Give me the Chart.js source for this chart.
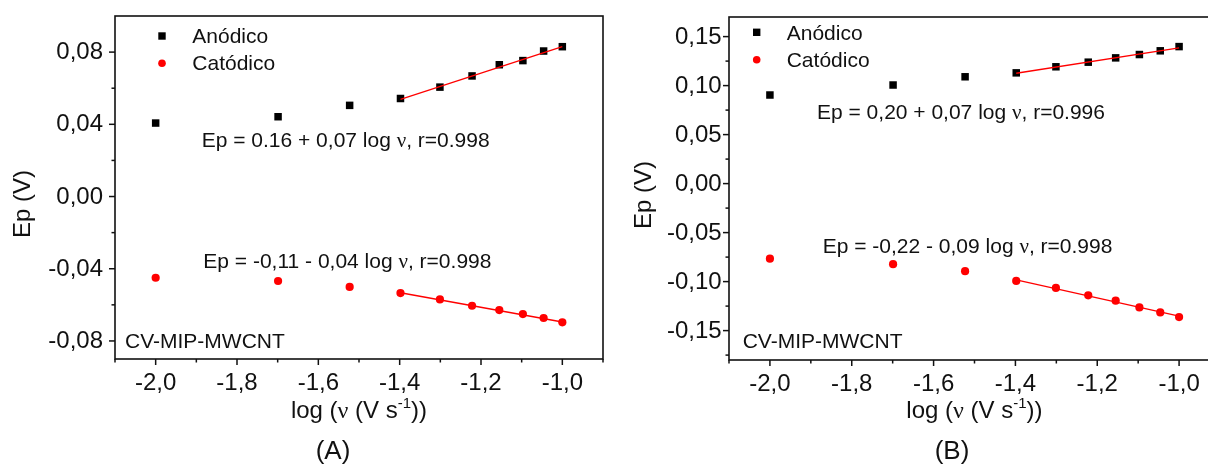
<!DOCTYPE html>
<html>
<head>
<meta charset="utf-8">
<script src="https://cdn.jsdelivr.net/npm/chart.js@4.4.1/dist/chart.umd.min.js"></script>
<style>
html, body { margin: 0; padding: 0; background: #fff; overflow: hidden; width: 1208px; height: 466px; }
#wrapA { position: absolute; left: 0; top: 0; width: 610px; height: 466px; }
#wrapB { position: absolute; left: 610px; top: 0; width: 620px; height: 466px; }
</style>
</head>
<body>
<div id="wrapA"><canvas id="chartA" width="610" height="466"></canvas></div>
<div id="wrapB"><canvas id="chartB" width="620" height="466"></canvas></div>
<script>
// log of scan rate (10 ... 100 mV/s)
const logScanRate = [-2.0, -1.699, -1.523, -1.398, -1.301, -1.222, -1.155, -1.097, -1.046, -1.0];

// panel A peak potentials (V)
const anodicA   = [0.0407, 0.0442, 0.0505, 0.0543, 0.0606, 0.0668, 0.0730, 0.0753, 0.0806, 0.0830];
const cathodicA = [-0.0450, -0.0468, -0.0501, -0.0535, -0.0570, -0.0605, -0.0629, -0.0651, -0.0673, -0.0697];

// panel B peak potentials (V)
const anodicB   = [0.0904, 0.1006, 0.1090, 0.1130, 0.1192, 0.1239, 0.1283, 0.1317, 0.1355, 0.1398];
const cathodicB = [-0.0766, -0.0822, -0.0894, -0.0993, -0.1065, -0.1140, -0.1195, -0.1264, -0.1315, -0.1362];

// linear fits over the last 7 points
const fitX = [-1.398, -1.0];
const fitAnodicA   = [0.0538, 0.0830];
const fitCathodicA = [-0.0533, -0.0695];
const fitAnodicB   = [0.1126, 0.1385];
const fitCathodicB = [-0.0983, -0.1352];

// ticks
const xMajor = [-2.0, -1.8, -1.6, -1.4, -1.2, -1.0];
const xLabels = ['-2,0', '-1,8', '-1,6', '-1,4', '-1,2', '-1,0'];
const xMinor = [-2.1, -1.9, -1.7, -1.5, -1.3, -1.1, -0.9];
const yMajorA = [-0.08, -0.04, 0, 0.04, 0.08];
const yLabelsA = ['-0,08', '-0,04', '0,00', '0,04', '0,08'];
const yMinorA = [-0.06, -0.02, 0.02, 0.06];
const yMajorB = [-0.15, -0.10, -0.05, 0, 0.05, 0.10, 0.15];
const yLabelsB = ['-0,15', '-0,10', '-0,05', '0,00', '0,05', '0,10', '0,15'];
const yMinorB = [-0.175, -0.125, -0.075, -0.025, 0.025, 0.075, 0.125];

const SANS = '"Liberation Sans", Arial, Helvetica, sans-serif';
const SERIF = '"Liberation Serif", "Times New Roman", serif';
const INK = '#111';
const RED = '#ff0000';

function pts(xs, ys) {
    return xs.map((x, i) => ({ x: x, y: ys[i] }));
}

// draw text made of runs [text, font, dy]
function drawRuns(ctx, runs, x, y, align) {
    let total = 0;
    runs.forEach(r => { ctx.font = r[1]; total += ctx.measureText(r[0]).width; });
    let cx = align === 'center' ? x - total / 2 : x;
    ctx.textAlign = 'left';
    runs.forEach(r => {
        ctx.font = r[1];
        ctx.fillText(r[0], cx, y + (r[2] || 0));
        cx += ctx.measureText(r[0]).width;
    });
}

function eqRuns(before, after) {
    return [[before, '21px ' + SANS], ['\u03bd', '21px ' + SERIF], [after, '21px ' + SANS]];
}

function makeOverlay(cfg) {
    return {
        id: 'overlay',
        afterDraw(chart) {
            const ctx = chart.ctx;
            const a = chart.chartArea;
            const xs = chart.scales.x, ys = chart.scales.y;
            ctx.save();
            ctx.strokeStyle = INK;
            ctx.fillStyle = INK;

            // frame
            ctx.lineWidth = 1.6;
            ctx.strokeRect(a.left, a.top, a.right - a.left, a.bottom - a.top);

            // tick marks (outward)
            ctx.lineWidth = 1.5;
            const tick = (scale, vals, len, isX) => vals.forEach(v => {
                const p = scale.getPixelForValue(v);
                ctx.beginPath();
                if (isX) { ctx.moveTo(p, a.bottom); ctx.lineTo(p, a.bottom + len); }
                else { ctx.moveTo(a.left, p); ctx.lineTo(a.left - len, p); }
                ctx.stroke();
            });
            tick(xs, xMajor, 6, true);
            tick(xs, xMinor, 3.5, true);
            tick(ys, cfg.yMajor, 6, false);
            tick(ys, cfg.yMinor, 3.5, false);

            // tick labels
            ctx.font = '24px ' + SANS;
            ctx.textBaseline = 'middle';
            ctx.textAlign = 'center';
            xMajor.forEach((v, i) => ctx.fillText(xLabels[i], xs.getPixelForValue(v), cfg.xLabelY));
            ctx.textAlign = 'right';
            cfg.yMajor.forEach((v, i) => ctx.fillText(cfg.yLabels[i], cfg.yLabelRight, ys.getPixelForValue(v) + 0.5));

            ctx.textBaseline = 'alphabetic';

            // axis titles
            drawRuns(ctx, [
                ['log (', '24px ' + SANS],
                ['\u03bd', '24px ' + SERIF],
                [' (V s', '24px ' + SANS],
                ['-1', '15px ' + SANS, -10],
                ['))', '24px ' + SANS]
            ], cfg.xTitle[0], cfg.xTitle[1], 'center');

            ctx.save();
            ctx.translate(cfg.yTitle[0], cfg.yTitle[1]);
            ctx.rotate(-Math.PI / 2);
            ctx.font = '24px ' + SANS;
            ctx.textAlign = 'center';
            ctx.fillText('Ep (V)', 0, 0);
            ctx.restore();

            // panel letter
            ctx.font = '26px ' + SANS;
            ctx.textAlign = 'center';
            ctx.fillText(cfg.letter, cfg.letterPos[0], cfg.letterPos[1]);

            // legend
            const lg = cfg.legend;
            ctx.fillStyle = '#000';
            ctx.fillRect(lg.x - 3.7, lg.y1 - 3.7, 7.4, 7.4);
            ctx.fillStyle = RED;
            ctx.beginPath();
            ctx.arc(lg.x, lg.y2, 3.8, 0, Math.PI * 2);
            ctx.fill();
            ctx.fillStyle = INK;
            ctx.font = '21px ' + SANS;
            ctx.textAlign = 'left';
            ctx.fillText('Anódico', lg.tx, lg.y1 + 7.3);
            ctx.fillText('Catódico', lg.tx, lg.y2 + 6.8);

            // equations and sample name
            cfg.equations.forEach(e => drawRuns(ctx, e.runs, e.x, e.y, 'left'));
            ctx.font = '21px ' + SANS;
            ctx.textAlign = 'left';
            ctx.fillText('CV-MIP-MWCNT', cfg.name[0], cfg.name[1]);

            ctx.restore();
        }
    };
}

function makePanel(canvasId, anodic, cathodic, fitAn, fitCat, yMin, yMax, layout, cfg) {
    const ctx = document.getElementById(canvasId).getContext('2d');
    return new Chart(ctx, {
        type: 'scatter',
        data: {
            datasets: [
                {
                    label: 'Anódico',
                    data: pts(logScanRate, anodic),
                    pointStyle: 'rect',
                    pointRadius: 5.3,
                    backgroundColor: '#000',
                    borderWidth: 0,
                    order: 2
                },
                {
                    label: 'Catódico',
                    data: pts(logScanRate, cathodic),
                    pointStyle: 'circle',
                    pointRadius: 4.1,
                    backgroundColor: RED,
                    borderWidth: 0,
                    order: 2
                },
                {
                    type: 'line',
                    label: 'fit anódico',
                    data: pts(fitX, fitAn),
                    borderColor: RED,
                    borderWidth: 1.3,
                    pointRadius: 0,
                    fill: false,
                    order: 1
                },
                {
                    type: 'line',
                    label: 'fit catódico',
                    data: pts(fitX, fitCat),
                    borderColor: RED,
                    borderWidth: 1.3,
                    pointRadius: 0,
                    fill: false,
                    order: 1
                }
            ]
        },
        options: {
            responsive: false,
            animation: false,
            devicePixelRatio: 1,
            events: [],
            layout: { padding: { left: 0, top: layout.top, right: layout.right, bottom: 0 } },
            plugins: { legend: { display: false }, tooltip: { enabled: false } },
            scales: {
                x: {
                    type: 'linear', min: -2.1, max: -0.9,
                    grid: { display: false }, border: { display: false },
                    ticks: { display: false },
                    afterFit: s => { s.height = layout.xHeight; }
                },
                y: {
                    type: 'linear', min: yMin, max: yMax,
                    grid: { display: false }, border: { display: false },
                    ticks: { display: false },
                    afterFit: s => { s.width = layout.yWidth; }
                }
            }
        },
        plugins: [makeOverlay(cfg)]
    });
}

makePanel('chartA', anodicA, cathodicA, fitAnodicA, fitCathodicA, -0.09, 0.10,
    { top: 16, right: 7, xHeight: 107, yWidth: 115 },
    {
        yMajor: yMajorA, yLabels: yLabelsA, yMinor: yMinorA,
        yLabelRight: 103, xLabelY: 383,
        xTitle: [359, 418], yTitle: [30, 204],
        letter: '(A)', letterPos: [333, 458.5],
        legend: { x: 162, y1: 36, y2: 63.3, tx: 192.3 },
        equations: [
            { runs: eqRuns('Ep = 0.16 + 0,07 log ', ', r=0.998'), x: 201.7, y: 146.7 },
            { runs: eqRuns('Ep = -0,11 - 0,04 log ', ', r=0.998'), x: 203.3, y: 268.3 }
        ],
        name: [125, 348.3]
    });

makePanel('chartB', anodicB, cathodicB, fitAnodicB, fitCathodicB, -0.18, 0.17,
    { top: 17, right: 10, xHeight: 106, yWidth: 119 },
    {
        yMajor: yMajorB, yLabels: yLabelsB, yMinor: yMinorB,
        yLabelRight: 111.7, xLabelY: 384,
        xTitle: [364.4, 418], yTitle: [41, 195],
        letter: '(B)', letterPos: [342, 458.5],
        legend: { x: 146.7, y1: 32.3, y2: 59.7, tx: 176.7 },
        equations: [
            { runs: eqRuns('Ep = 0,20 + 0,07 log ', ', r=0.996'), x: 207, y: 119 },
            { runs: eqRuns('Ep = -0,22 - 0,09 log ', ', r=0.998'), x: 212.7, y: 252.7 }
        ],
        name: [132.7, 348.3]
    });
</script>
</body>
</html>
